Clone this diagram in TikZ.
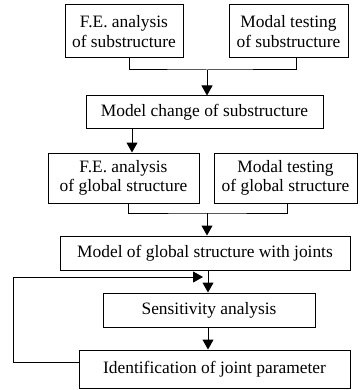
\documentclass[tikz,border=0pt]{standalone}
\usepackage{fontspec}
\setmainfont{Liberation Serif}
\usetikzlibrary{positioning}
\usetikzlibrary{shapes,arrows.meta}

\tikzset{
    stepbox/.style={rectangle,draw,align=center,inner sep=1pt,font=\fontsize{8.7}{9.8}\selectfont},
    flow/.style={-{Triangle[width=5.5pt,length=5pt]}},
}

\begin{document}
\begin{tikzpicture}[x=0.5pt,y=-0.5pt,line width=0.5pt]
    \useasboundingbox (0,0) rectangle (360,390);
    \node[stepbox,minimum width=59pt,minimum height=26.5pt] (fesub) at (124,31.5) {F.E. analysis\\of substructure};
    \node[stepbox,minimum width=59.5pt,minimum height=26.5pt] (mtsub) at (288.5,31.5) {Modal testing\\of substructure};
    \node[stepbox,minimum width=118.5pt,minimum height=16pt] (mcsub) at (204.5,112) {Model change of substructure};
    \node[stepbox,minimum width=75.5pt,minimum height=25pt] (feglob) at (123.5,178) {F.E. analysis\\of global structure};
    \node[stepbox,minimum width=71.5pt,minimum height=25pt] (mtglob) at (285.5,178) {Modal testing\\of global structure};
    \node[stepbox,minimum width=145pt,minimum height=17pt] (mglob) at (205,253) {Model of global structure with joints};
    \node[stepbox,minimum width=106pt,minimum height=17pt] (sens) at (209,310) {Sensitivity analysis};
    \node[stepbox,minimum width=135.5pt,minimum height=19pt] (ident) at (214.5,369) {Identification of joint parameter};
    %Brackets joining the pairs
    \coordinate (j1) at (207,70);
    \coordinate (j2) at (207,213);
    \draw (fesub.south -| 129,0) |- (j1) -| (mtsub.south -| 296,0);
    \draw (feglob.south -| 128,0) |- (j2) -| (mtglob.south -| 287,0);
    \draw[flow] (j1) -- (j1 |- mcsub.north);
    \draw[flow] (j2) -- (j2 |- mglob.north);
    %Links down the chain
    \draw[flow] (mcsub.south -| 132,0) -- (feglob.north -| 132,0);
    \coordinate (k) at (208,277);
    \draw[flow] (mglob.south -| k) -- (sens.north -| k);
    \draw[flow] (sens.south -| k) -- (ident.north -| k);
    %Feedback loop
    \draw[flow] (ident.west |- 0,362) -| (13,277) -- (203,277);
\end{tikzpicture}
\end{document}
